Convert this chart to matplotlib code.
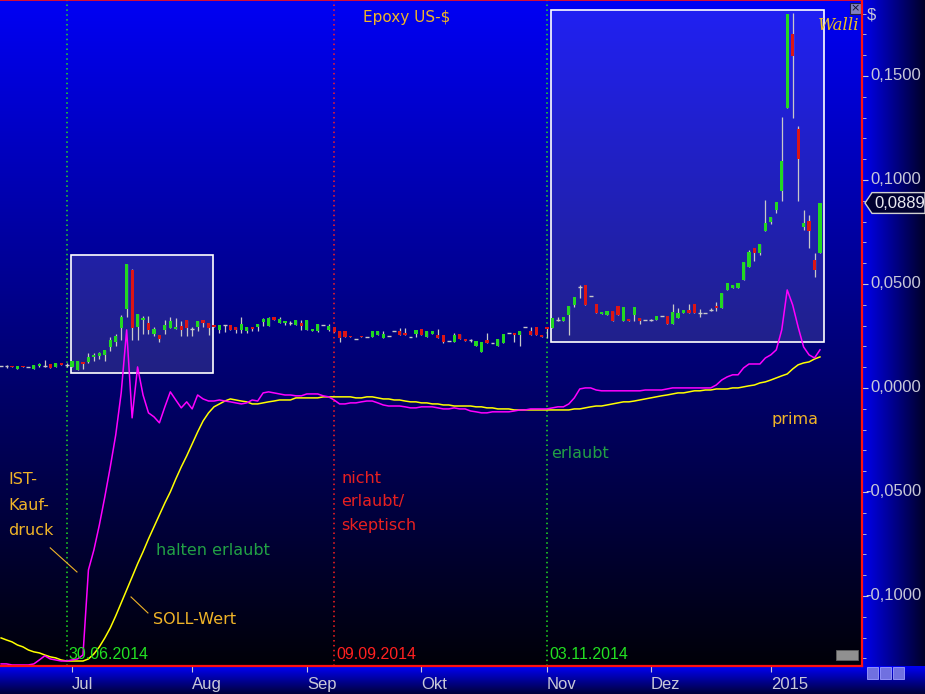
import numpy as np
import pandas as pd
import matplotlib
matplotlib.use('Agg')
import matplotlib.pyplot as plt
from matplotlib.colors import LinearSegmentedColormap
from matplotlib.patches import Rectangle, Polygon
from matplotlib.transforms import blended_transform_factory

# daily candles (US-$), 12.06.2014 - 15.01.2015
open_ = [.0106, .0106, .0106, .0091, .0106, .0100, .0093, .0106, .0106, .0115,
         .0102, .0122, .0111, .0102, .0087, .0124, .0125, .0151, .0154, .0159,
         .0199, .0223, .0287, .0380, .0568, .0292, .0327, .0311, .0260, .0255,
         .0279, .0287, .0284, .0298, .0327, .0282, .0292, .0327, .0311, .0303,
         .0279, .0302, .0303, .0295, .0279, .0276, .0295, .0293, .0317, .0300,
         .0342, .0314, .0314, .0313, .0303, .0313, .0279, .0276, .0276, .0303,
         .0279, .0295, .0274, .0274, .0250, .0236, .0250, .0245, .0247, .0252,
         .0242, .0250, .0274, .0274, .0265, .0245, .0258, .0284, .0247, .0260,
         .0252, .0255, .0226, .0223, .0258, .0236, .0228, .0203, .0175, .0228,
         .0215, .0203, .0218, .0263, .0266, .0252, .0293, .0274, .0292, .0255,
         .0292, .0290, .0327, .0322, .0351, .0399, .0484, .0495, .0443, .0404,
         .0356, .0351, .0370, .0394, .0322, .0332, .0351, .0337, .0326, .0327,
         .0327, .0345, .0346, .0308, .0338, .0361, .0375, .0404, .0360, .0359,
         .0375, .0394, .0386, .0471, .0482, .0482, .0519, .0582, .0673, .0651,
         .0752, .0800, .0853, .0948, .1348, .1703, .1246, .0776, .0803, .0616,
         .0651]
close_ = [.0106, .0106, .0100, .0106, .0100, .0100, .0111, .0115, .0106, .0098,
          .0122, .0111, .0111, .0127, .0127, .0115, .0151, .0159, .0167, .0183,
          .0228, .0250, .0343, .0596, .0287, .0356, .0338, .0279, .0282, .0234,
          .0303, .0322, .0292, .0279, .0287, .0282, .0322, .0314, .0290, .0295,
          .0303, .0302, .0279, .0279, .0308, .0295, .0284, .0308, .0332, .0337,
          .0327, .0332, .0322, .0313, .0327, .0300, .0327, .0284, .0308, .0303,
          .0300, .0271, .0242, .0247, .0244, .0236, .0244, .0245, .0274, .0274,
          .0260, .0250, .0274, .0252, .0252, .0245, .0279, .0252, .0274, .0274,
          .0242, .0223, .0226, .0255, .0234, .0226, .0228, .0226, .0223, .0215,
          .0215, .0236, .0260, .0263, .0252, .0274, .0293, .0255, .0252, .0247,
          .0282, .0335, .0327, .0342, .0394, .0438, .0484, .0399, .0443, .0362,
          .0366, .0370, .0322, .0351, .0390, .0322, .0390, .0324, .0326, .0327,
          .0346, .0345, .0308, .0366, .0361, .0375, .0361, .0361, .0360, .0359,
          .0375, .0386, .0457, .0505, .0495, .0505, .0606, .0654, .0651, .0693,
          .0792, .0821, .0895, .1092, .1799, .1598, .1100, .0794, .0752, .0568,
          .0889]
high_ = [.0107, .0111, .0106, .0106, .0106, .0101, .0111, .0120, .0135, .0115,
         .0122, .0122, .0120, .0127, .0127, .0124, .0170, .0170, .0173, .0183,
         .0247, .0258, .0351, .0596, .0574, .0356, .0346, .0346, .0292, .0255,
         .0327, .0343, .0338, .0322, .0327, .0292, .0322, .0327, .0311, .0303,
         .0303, .0303, .0303, .0295, .0343, .0295, .0295, .0308, .0337, .0342,
         .0342, .0342, .0322, .0322, .0327, .0327, .0327, .0284, .0308, .0304,
         .0308, .0295, .0274, .0274, .0250, .0237, .0250, .0246, .0274, .0274,
         .0274, .0251, .0275, .0289, .0290, .0246, .0279, .0284, .0274, .0274,
         .0284, .0255, .0227, .0266, .0258, .0236, .0236, .0226, .0223, .0266,
         .0216, .0236, .0260, .0264, .0266, .0274, .0294, .0295, .0292, .0255,
         .0292, .0335, .0343, .0342, .0394, .0438, .0495, .0495, .0444, .0404,
         .0366, .0370, .0370, .0394, .0390, .0332, .0390, .0337, .0327, .0332,
         .0346, .0346, .0346, .0404, .0385, .0375, .0404, .0404, .0380, .0360,
         .0383, .0414, .0457, .0505, .0495, .0505, .0606, .0664, .0673, .0693,
         .0904, .0821, .0895, .1304, .1799, .1802, .1257, .0856, .0832, .0649,
         .0889]
low_ = [.0105, .0095, .0100, .0091, .0100, .0099, .0093, .0101, .0101, .0098,
        .0102, .0111, .0102, .0102, .0087, .0090, .0119, .0131, .0141, .0131,
        .0178, .0202, .0231, .0343, .0228, .0231, .0260, .0260, .0250, .0223,
        .0260, .0287, .0284, .0250, .0250, .0250, .0276, .0292, .0255, .0295,
        .0266, .0271, .0279, .0265, .0265, .0265, .0276, .0276, .0298, .0300,
        .0327, .0313, .0304, .0303, .0303, .0279, .0279, .0276, .0271, .0302,
        .0276, .0271, .0223, .0245, .0244, .0235, .0244, .0244, .0247, .0252,
        .0242, .0249, .0273, .0252, .0252, .0244, .0245, .0252, .0247, .0260,
        .0242, .0218, .0225, .0223, .0234, .0226, .0223, .0203, .0175, .0215,
        .0214, .0203, .0218, .0262, .0223, .0203, .0292, .0255, .0252, .0247,
        .0242, .0290, .0324, .0322, .0252, .0391, .0434, .0399, .0442, .0362,
        .0356, .0351, .0322, .0351, .0322, .0322, .0322, .0308, .0325, .0322,
        .0327, .0344, .0308, .0308, .0338, .0361, .0361, .0361, .0342, .0358,
        .0372, .0372, .0386, .0471, .0482, .0482, .0519, .0582, .0612, .0640,
        .0752, .0789, .0840, .0901, .1347, .1300, .0901, .0757, .0675, .0531,
        .0651]

# IST-Kaufdruck (magenta) and SOLL-Wert (yellow)
ist_kaufdruck = [-.1327, -.1327, -.1332, -.1332, -.1332, -.1332, -.1327, -.1308, -.1288, -.1303,
                 -.1308, -.1313, -.1313, -.1308, -.1303, -.1284, -.0875, -.0779, -.0659, -.0524,
                 -.0380, -.0226, -.0024, .0279, -.0144, .0101, -.0034, -.0120, -.0139, -.0168,
                 -.0091, -.0019, -.0058, -.0096, -.0067, -.0101, -.0034, -.0053, -.0063, -.0063,
                 -.0058, -.0063, -.0067, -.0072, -.0077, -.0072, -.0058, -.0063, -.0024, -.0019,
                 -.0024, -.0029, -.0034, -.0034, -.0038, -.0038, -.0029, -.0029, -.0029, -.0038,
                 -.0043, -.0058, -.0077, -.0077, -.0072, -.0072, -.0067, -.0063, -.0063, -.0072,
                 -.0082, -.0087, -.0087, -.0087, -.0091, -.0096, -.0096, -.0091, -.0091, -.0091,
                 -.0096, -.0101, -.0101, -.0096, -.0101, -.0101, -.0111, -.0115, -.0120, -.0120,
                 -.0115, -.0115, -.0115, -.0115, -.0111, -.0106, -.0106, -.0101, -.0101, -.0101,
                 -.0101, -.0096, -.0091, -.0091, -.0077, -.0048, -.0005, .0000, .0000, -.0010,
                 -.0014, -.0014, -.0014, -.0014, -.0014, -.0014, -.0014, -.0014, -.0010, -.0010,
                 -.0010, -.0010, -.0005, .0000, .0000, .0000, .0000, .0000, .0000, .0000,
                 .0000, .0014, .0038, .0053, .0063, .0063, .0096, .0115, .0115, .0115,
                 .0144, .0159, .0183, .0279, .0471, .0399, .0293, .0197, .0159, .0144,
                 .0183]
soll_wert = [-.1202, -.1212, -.1221, -.1236, -.1245, -.1260, -.1269, -.1274, -.1284, -.1293,
             -.1298, -.1308, -.1313, -.1313, -.1313, -.1313, -.1303, -.1279, -.1245, -.1202,
             -.1154, -.1096, -.1034, -.0971, -.0909, -.0846, -.0788, -.0726, -.0668, -.0611,
             -.0553, -.0500, -.0438, -.0380, -.0327, -.0269, -.0212, -.0159, -.0120, -.0091,
             -.0077, -.0063, -.0053, -.0058, -.0063, -.0067, -.0077, -.0077, -.0072, -.0067,
             -.0063, -.0058, -.0058, -.0058, -.0048, -.0048, -.0048, -.0048, -.0048, -.0043,
             -.0043, -.0043, -.0043, -.0043, -.0043, -.0048, -.0048, -.0043, -.0043, -.0048,
             -.0053, -.0053, -.0058, -.0058, -.0063, -.0067, -.0067, -.0072, -.0072, -.0077,
             -.0077, -.0082, -.0082, -.0087, -.0087, -.0087, -.0087, -.0091, -.0091, -.0096,
             -.0096, -.0101, -.0101, -.0101, -.0106, -.0106, -.0106, -.0106, -.0106, -.0106,
             -.0106, -.0106, -.0106, -.0106, -.0106, -.0101, -.0101, -.0096, -.0091, -.0087,
             -.0087, -.0082, -.0077, -.0072, -.0067, -.0067, -.0063, -.0058, -.0053, -.0048,
             -.0043, -.0038, -.0034, -.0029, -.0024, -.0024, -.0019, -.0014, -.0014, -.0010,
             -.0010, -.0005, -.0005, -.0005, .0000, .0000, .0005, .0010, .0014, .0024,
             .0029, .0038, .0048, .0058, .0067, .0091, .0111, .0120, .0125, .0139,
             .0149]

holidays = ['2014-07-04', '2014-09-01', '2014-11-27', '2014-12-25', '2015-01-01']
month_names = {7: 'Jul', 8: 'Aug', 9: 'Sep', 10: 'Okt', 11: 'Nov', 12: 'Dez', 1: '2015'}
marker_dates = ['2014-06-30', '2014-09-09', '2014-11-03']
marker_colors = ['#22e022', '#ff2020', '#22e022']
# highlighted ranges: (first day, day after last, low, high)
boxes = [('2014-07-01', '2014-08-07', 0.0072, 0.0639),
         ('2014-11-04', '2015-01-16', 0.0221, 0.1817)]

dates = pd.bdate_range('2014-06-12', periods=len(close_) + 8, freq='C', holidays=holidays)
pos = {d: i for i, d in enumerate(dates)}
x = np.arange(len(close_))
o, c, h, l = (np.array(v) for v in (open_, close_, high_, low_))

W, H = 925, 694
fig = plt.figure(figsize=(W / 100, H / 100), dpi=100)
fig.patch.set_facecolor('#000040')

def grad(axx, colors, horizontal=False):
    cm = LinearSegmentedColormap.from_list('g', colors)
    g = np.linspace(0, 1, 256)
    g = g[None, :] if horizontal else g[:, None]
    axx.imshow(g, cmap=cm, aspect='auto', extent=[0, 1, 0, 1], origin='lower',
               transform=axx.transAxes, zorder=0, interpolation='bicubic')

# bottom time-axis panel
bax = fig.add_axes([0, 0, 1, 28 / H])
bax.set_axis_off()
grad(bax, ['#000038', '#0000f8'])
for bx in [867, 880, 893]:
    bax.add_patch(Rectangle((bx / W, 0.55), 11 / W, 0.4, transform=bax.transAxes,
                            facecolor='#7070e0', edgecolor='#a0a0ff', lw=0.6))

# right price-axis panel
rax = fig.add_axes([862 / W, 28 / H, 63 / W, 666 / H])
rax.set_axis_off()
grad(rax, ['#0000f0', '#000028'], horizontal=True)

ax = fig.add_axes([0, 28 / H, 862 / W, 666 / H])
grad(ax, ['#000008', '#0000f4'])
ax.set_xlim(-0.2, 157.7)
ax.set_ylim(-0.1337, 0.1865)
rax.set_xlim(0, 1)
rax.set_ylim(ax.get_ylim())

for (d0, d1, lo, hi) in boxes:
    x0 = pos[pd.Timestamp(d0)] - 0.2
    x1 = pos[pd.Timestamp(d1)] - 0.2
    ax.add_patch(Rectangle((x0, lo), x1 - x0, hi - lo, facecolor='white', alpha=0.13, zorder=1))
    ax.add_patch(Rectangle((x0, lo), x1 - x0, hi - lo, facecolor='none', edgecolor='white', lw=1.2, zorder=2))

for d, col in zip(marker_dates, marker_colors):
    i = pos[pd.Timestamp(d)]
    ax.axvline(i, color=col, ls=(0, (1, 2.2)), lw=1.1, zorder=2)
    ax.annotate(pd.Timestamp(d).strftime('%d.%m.%Y'), xy=(i, 0), xycoords=('data', 'axes fraction'),
                xytext=(1.5, 8.5), textcoords='offset points', va='center', ha='left',
                color=col, fontsize=11.5, family='Liberation Sans', zorder=6)

# candles
up = c > o
dn = c < o
fl = c == o
ax.vlines(x, l, h, color='#c8c8c8', lw=0.9, zorder=3)
ax.bar(x[up], (c - o)[up], bottom=o[up], width=0.58, color='#22d822', zorder=4)
ax.bar(x[dn], (c - o)[dn], bottom=o[dn], width=0.58, color='#dd1515', zorder=4)
ax.hlines(c[fl], x[fl] - 0.35, x[fl] + 0.35, color='#c8c8c8', lw=1.0, zorder=4)

ax.plot(x, soll_wert, color='#ffff00', lw=1.1, zorder=5)
ax.plot(x, ist_kaufdruck, color='#ff00ff', lw=1.1, zorder=5)

gold = '#f0b428'
green = '#22a045'
red = '#e82020'
hand = 'DejaVu Sans'
ax.text(0.421, 0.974, 'Epoxy US-$', transform=ax.transAxes, color=gold, fontsize=11,
        va='center', ha='left', family=hand)
ax.text(1.3, -0.0563, 'IST-\nKauf-\ndruck', color=gold, fontsize=11.5, va='center', ha='left',
        linespacing=1.9, family=hand)
ax.plot([9.0, 13.9], [-0.0769, -0.0885], color=gold, lw=0.8, zorder=6)
ax.text(28.4, -0.0784, 'halten erlaubt', color=green, fontsize=11.5, va='center', ha='left', family=hand)
ax.text(27.8, -0.1115, 'SOLL-Wert', color=gold, fontsize=11.5, va='center', ha='left', family=hand)
ax.plot([23.8, 26.9], [-0.1005, -0.1082], color=gold, lw=0.8, zorder=6)
ax.text(62.3, -0.0548, 'nicht\nerlaubt/\nskeptisch', color=red, fontsize=11.5, va='center', ha='left',
        linespacing=1.7, family=hand)
ax.text(100.7, -0.0313, 'erlaubt', color=green, fontsize=11.5, va='center', ha='left', family=hand)
ax.text(141.2, -0.0154, 'prima', color=gold, fontsize=11.5, va='center', ha='left', family=hand)
ax.text(0.997, 1 - 25 / 666, 'Walli', transform=ax.transAxes, color='#f0c020', fontsize=12, va='center',
        ha='right', family='DejaVu Serif', style='italic', zorder=8)

# close button and small icon
ax.add_patch(Rectangle((850 / 862, 1 - 14 / 666), 11 / 862, 11 / 666, transform=ax.transAxes,
                       facecolor='#8080c0', edgecolor='#202040', lw=0.8, zorder=7))
ax.text(855.5 / 862, 1 - 8.5 / 666, '×', transform=ax.transAxes, color='#101030', fontsize=8,
        ha='center', va='center', zorder=8)
ax.add_patch(Rectangle((836 / 862, 6 / 666), 22 / 862, 10 / 666, transform=ax.transAxes,
                       facecolor='#909090', edgecolor='#606060', lw=0.6, zorder=7))

# frame
ax.spines['left'].set_visible(False)
for s in ['right', 'bottom']:
    ax.spines[s].set_color('#ff1010')
    ax.spines[s].set_linewidth(1.6)
ax.spines['top'].set_color('#ff1010')
ax.spines['top'].set_linewidth(1.2)
for s in ax.spines.values():
    s.set_zorder(9)

# price axis
yt = [-0.10, -0.05, 0.0, 0.05, 0.10, 0.15]
ax.yaxis.tick_right()
ax.set_yticks(yt)
ax.set_yticks(np.arange(-0.13, 0.19, 0.01), minor=True)
ax.tick_params(axis='y', which='major', length=4, color='#c8c8d8', labelright=False, direction='out')
ax.tick_params(axis='y', which='minor', length=3, color='#c8c8d8', direction='out')
for v in yt:
    lbl = f'{v:.4f}'.replace('.', ',')
    if abs(v) < 1e-9:
        lbl = '0,0000'
    rax.text(59 / 63, v, lbl, transform=blended_transform_factory(rax.transAxes, rax.transData),
             color='#c8c8d8', fontsize=12, ha='right', va='center', family='Liberation Sans')

# time axis
month_pos = [i for i in range(1, len(close_)) if dates[i].month != dates[i - 1].month]
ax.set_xticks(month_pos)
ax.set_xticklabels([month_names[dates[i].month] for i in month_pos])
ax.tick_params(axis='x', length=4, color='#c8c8d8', labelcolor='#c8c8d8', labelsize=12, pad=4,
               direction='out')
for lb in ax.get_xticklabels():
    lb.set_horizontalalignment('left')
    lb.set_family('Liberation Sans')

rax.text(0.07, 1 - 15 / 666, '$', transform=rax.transAxes, color='#c8c8d8', fontsize=12,
         va='center', ha='left', family='Liberation Sans')

# last price tag
last = close_[-1]
tr = blended_transform_factory(rax.transAxes, rax.transData)
hh = 0.0050
tag = Polygon([(3 / 63, last), (10 / 63, last + hh), (1.0, last + hh), (1.0, last - hh), (10 / 63, last - hh)],
              closed=True, transform=tr, facecolor='#000030', edgecolor='#d0d0d0', lw=1.0, zorder=5)
rax.add_patch(tag)
rax.text(12 / 63, last, f'{last:.4f}'.replace('.', ','), transform=tr, color='#e8e8f0', fontsize=12,
         va='center', ha='left', family='Liberation Sans', zorder=6)

fig.savefig('out.png', dpi=100)
